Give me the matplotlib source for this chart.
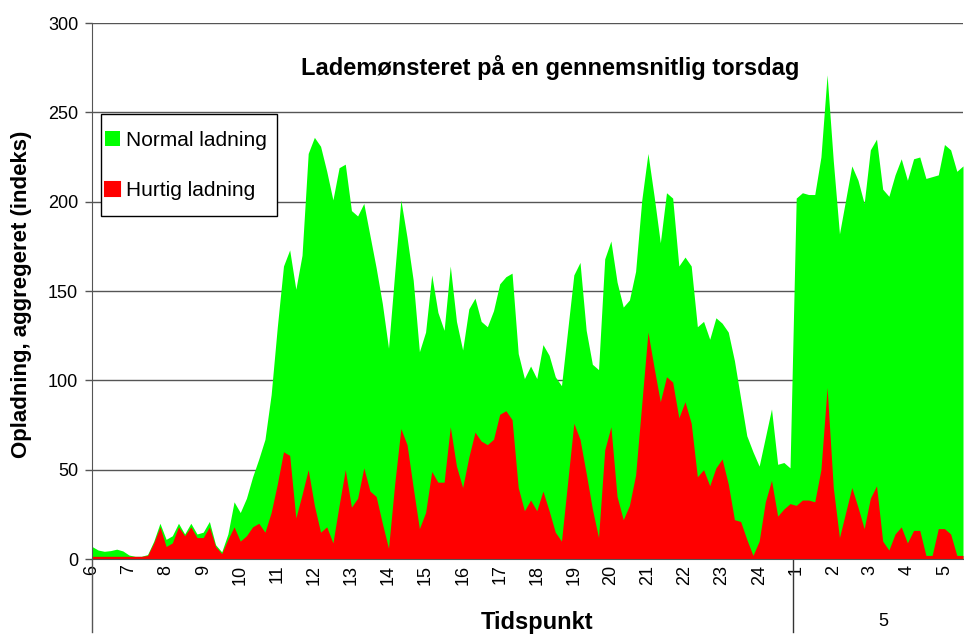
import matplotlib
matplotlib.use("Agg")
import matplotlib.pyplot as plt
from matplotlib.patches import Patch, Rectangle
from matplotlib.lines import Line2D
import numpy as np

plt.rcParams['font.family'] = ['Liberation Sans', 'DejaVu Sans']

# ---- data (10-minute intervals, 06:00 -> 05:50 next day) ----
normal = [7, 5, 4.3, 4.7, 5.5, 4.5, 2.2, 1.5, 1.5, 2.5,
          10, 20, 11, 13, 20, 14, 20, 14, 15, 21,
          8, 4, 14, 32, 26, 34, 46, 56, 67, 92,
          130, 164, 173, 151, 170, 227, 236, 231, 217, 201,
          219, 221, 195, 192, 199, 181, 163, 143, 118, 160,
          201, 180, 156, 116, 127, 159, 138, 128, 164, 133,
          117, 140, 146, 133, 130, 139, 154, 158, 160, 115,
          101, 108, 101, 120, 114, 102, 97, 128, 159, 166,
          128, 109, 106, 168, 178, 155, 141, 145, 161, 201,
          227, 203, 177, 205, 202, 164, 169, 164, 130, 133,
          123, 135, 132, 127, 111, 90, 69, 60, 52, 68,
          84, 53, 54, 51, 202, 205, 204, 204, 225, 271,
          223, 182, 201, 220, 212, 199, 229, 235, 207, 203,
          215, 224, 212, 224, 225, 213, 214, 215, 232, 229,
          217, 220]
hurtig = [1.5, 1.5, 1.5, 1.5, 1.5, 1.5, 1.5, 1.5, 1.5, 2,
          9, 18, 7, 9, 18, 13, 18, 12, 12, 18,
          7, 3, 11, 18, 10, 13, 18, 20, 15, 26,
          42, 60, 58, 23, 36, 50, 30, 15, 18, 9,
          30, 50, 29, 34, 51, 38, 35, 20, 6, 42,
          73, 64, 40, 17, 26, 49, 43, 43, 74, 52,
          40, 57, 71, 66, 64, 67, 81, 83, 78, 40,
          27, 33, 27, 38, 27, 15, 10, 43, 76, 67,
          48, 28, 12, 61, 74, 35, 22, 30, 47, 87,
          127, 107, 88, 102, 99, 79, 88, 76, 46, 50,
          41, 51, 56, 42, 22, 21, 11, 2, 10, 32,
          44, 24, 28, 31, 30, 33, 33, 32, 50, 96,
          40, 12, 26, 40, 29, 17, 34, 41, 10, 5,
          14, 18, 9, 16, 16, 2, 2, 17, 17, 14,
          2, 2]
hour_labels = ['6', '7', '8', '9', '10', '11', '12', '13', '14', '15', '16',
               '17', '18', '19', '20', '21', '22', '23', '24',
               '1', '2', '3', '4', '5']
points_per_hour = 6
series_names = ['Normal ladning', 'Hurtig ladning']
title = 'Lademønsteret på en gennemsnitlig torsdag'
ylabel = 'Opladning, aggregeret (indeks)'
xlabel = 'Tidspunkt'
group2_label = '5'

GREEN = '#00FF00'
RED = '#FF0000'

fig = plt.figure(figsize=(9.64, 6.37), dpi=100)
W, H = 964, 637
L, R, T, B = 92, 963, 23, 559
ax = fig.add_axes([L / W, 1 - B / H, (R - L) / W, (B - T) / H])

x = np.arange(len(normal))
ax.fill_between(x, 0, normal, color=GREEN, lw=0, zorder=2)
ax.fill_between(x, 0, hurtig, color=RED, lw=0, zorder=3)

ax.set_xlim(0, len(normal) - 1)
ax.set_ylim(0, 300)
ax.set_yticks(np.arange(0, 301, 50))
ax.yaxis.grid(True, color='#555555', lw=1.0)
ax.set_axisbelow(True)
ax.tick_params(axis='y', direction='out', length=5, width=1, color='#555555',
               labelsize=13, pad=5)

ax.set_xticks(np.arange(len(hour_labels)) * points_per_hour)
ax.set_xticklabels(hour_labels, rotation=90, fontsize=13)
ax.tick_params(axis='x', length=0, pad=4)

for s in ['top', 'right']:
    ax.spines[s].set_visible(False)
ax.spines['left'].set_color('#555555')
ax.spines['bottom'].set_color('#555555')
ax.spines['left'].set_zorder(5)
ax.spines['bottom'].set_zorder(5)

# multi-level category axis separators
ext = -(632 - B) / (B - T)
ax.add_line(Line2D([0, 0], [0, ext], transform=ax.transAxes, color='#555555',
                   lw=1, clip_on=False))
sep_idx = hour_labels.index('1') * points_per_hour - 0.5
xsep = sep_idx / (len(normal) - 1)
ax.add_line(Line2D([xsep, xsep], [0, ext], transform=ax.transAxes, color='#333333',
                   lw=1, clip_on=False))

fig.text(537 / W, 1 - 622 / H, xlabel, ha='center', va='center', fontsize=17,
         fontweight='bold')
fig.text(883 / W, 1 - 621 / H, group2_label, ha='center', va='center', fontsize=13)
fig.text(22 / W, 1 - 294 / H, ylabel, ha='center', va='center', fontsize=16,
         fontweight='bold', rotation=90)
fig.text(550 / W, 1 - 67 / H, title, ha='center', va='center', fontsize=17,
         fontweight='bold')

# legend
handles = [Patch(facecolor=GREEN, edgecolor='none'),
           Patch(facecolor=RED, edgecolor=RED, linewidth=1.5, joinstyle='round')]
leg = ax.legend(handles, series_names, loc='upper left',
                bbox_to_anchor=((105 - L) / (R - L), (B - 131) / (B - T)),
                fontsize=15, frameon=False, borderpad=0, labelspacing=1.5,
                handlelength=0.7, handleheight=0.7, handletextpad=0.3,
                borderaxespad=0)
leg.set_zorder(10)
frame = Rectangle(((101 - L) / (R - L), (B - 216) / (B - T)),
                  (277 - 101) / (R - L), (216 - 114) / (B - T),
                  transform=ax.transAxes, facecolor='white', edgecolor='black',
                  lw=1.0, zorder=9)
ax.add_patch(frame)

fig.savefig('out.png', dpi=100)
